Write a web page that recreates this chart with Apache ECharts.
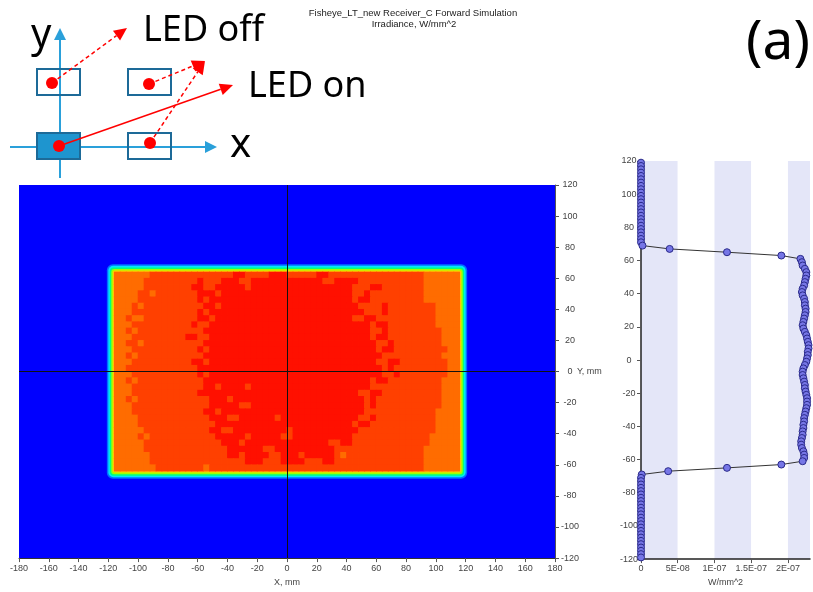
<!DOCTYPE html>
<html><head><meta charset="utf-8">
<script src="https://cdn.jsdelivr.net/npm/echarts@6/dist/echarts.min.js"></script>
<style>html,body{margin:0;padding:0;background:#fff}#c{width:813px;height:592px}</style>
</head><body><div id="c"></div>
<script>
// ---------------- DATA ----------------
// Irradiance map (mm): outer field and nested edge bands [halfX, halfY, level]
const mapBackground = [-180, -120, 180, 120, 0];
const edgeBands = [
  [121, 69, 1],
  [120, 68, 2],
  [119, 67, 3],
  [118, 66, 4],
  [117, 65, 5]
];
// Interior pattern: 4 mm cells, from x=-116 (left) and y=64 (top); run-length coded o/m/r levels
const patternOrigin = [-116, 64];
const patternCell = 4;
const patternRows = [
  "o6 m14 r2 m4 r3 m5 r2 m16 o6",
  "o5 m9 r1 m3 r3 m2 r12 m2 r4 m11 o6",
  "o5 m8 r2 m2 r5 m1 r17 m3 r2 m7 o6",
  "o4 m2 o1 m7 r3 m1 r22 m2 r1 m9 o6",
  "o4 m10 r1 m1 r24 m1 r2 m9 o6",
  "o3 m1 o1 m10 r2 m1 r23 m4 r1 m8 o4",
  "o3 m11 r1 m1 r26 m3 r1 m8 o4",
  "o2 m1 o2 m9 r2 m1 r23 m2 r2 m10 o4",
  "o3 m10 r1 m2 r27 m1 r2 m8 o4",
  "o2 m1 o1 m11 r28 m2 r1 m9 o3",
  "o3 m9 r2 m2 r27 m1 r2 m9 o3",
  "o2 m2 o1 m10 r29 m2 r1 m8 o3",
  "o3 m11 r1 m1 r28 m1 r2 m9 o2",
  "o2 m1 o1 m11 r30 m10 o3",
  "o3 m10 r2 m1 r28 m2 r2 m8 o2",
  "o2 m12 r31 m1 r1 m9 o2",
  "o3 m11 r1 m1 r29 m2 r1 m8 o2",
  "o2 m1 o1 m11 r28 m1 r2 m9 o3",
  "o3 m12 r2 m1 r4 m1 r20 m12 o3",
  "o3 m11 r27 m2 r2 m10 o3",
  "o2 m1 o1 m12 r3 m1 r22 m1 r1 m11 o3",
  "o3 m13 r5 m2 r19 m1 r1 m11 o3",
  "o3 m12 r2 m1 r24 m12 o4",
  "o4 m12 r3 m2 r6 m1 r13 m2 r1 m10 o4",
  "o4 m13 r23 m1 r2 m11 o4",
  "o5 m11 r2 m2 r9 m1 r11 m13 o4",
  "o4 m1 o1 m11 r5 m1 r5 m2 r10 m13 o5",
  "o5 m13 r3 m1 r14 m2 r2 m13 o5",
  "o5 m14 r6 m2 r10 m15 o6",
  "o6 m13 r2 m1 r4 m2 r3 m1 r5 m1 o1 m13 o6",
  "o6 m16 r3 m3 r4 m3 r2 m15 o6",
  "o7 m8 o1 m36 o6"
];
const patternLevels = { o: 6, m: 7, r: 8 };

// Profile (right): Y positions in mm and irradiance W/mm^2
const profileY = [
  119,117,115,113,111,109,107,105,103,101,99,97,95,93,91,89,87,85,83,81,79,77,75,73,71,
  69,67,65,63,
  61,59,57,55,53,51,49,47,45,43,41,39,37,35,33,31,29,27,25,23,21,19,17,15,13,11,9,7,5,3,1,
  -1,-3,-5,-7,-9,-11,-13,-15,-17,-19,-21,-23,-25,-27,-29,-31,-33,-35,-37,-39,-41,-43,-45,-47,-49,-51,-53,-55,-57,-59,-61,
  -63,-65,-67,-69,
  -71,-73,-75,-77,-79,-81,-83,-85,-87,-89,-91,-93,-95,-97,-99,-101,-103,-105,-107,-109,-111,-113,-115,-117,-119
];
const profileVal = [
  0,0,0,0,0,0,0,0,0,0,0,0,0,0,0,0,0,0,0,0,0,0,0,0,0,
  0.02e-7,0.39e-7,1.17e-7,1.91e-7,
  2.17e-7,2.19e-7,2.20e-7,2.23e-7,2.25e-7,2.25e-7,2.24e-7,2.23e-7,2.22e-7,2.20e-7,2.19e-7,2.20e-7,2.22e-7,2.23e-7,2.23e-7,2.24e-7,2.24e-7,2.23e-7,2.22e-7,2.21e-7,2.20e-7,2.21e-7,2.23e-7,2.25e-7,2.26e-7,2.27e-7,2.28e-7,2.28e-7,2.27e-7,2.27e-7,2.26e-7,
  2.25e-7,2.23e-7,2.21e-7,2.20e-7,2.20e-7,2.21e-7,2.22e-7,2.23e-7,2.23e-7,2.24e-7,2.25e-7,2.26e-7,2.26e-7,2.26e-7,2.25e-7,2.24e-7,2.23e-7,2.22e-7,2.22e-7,2.21e-7,2.21e-7,2.20e-7,2.20e-7,2.19e-7,2.18e-7,2.18e-7,2.19e-7,2.21e-7,2.22e-7,2.22e-7,2.20e-7,
  1.91e-7,1.17e-7,0.37e-7,0.01e-7,
  0,0,0,0,0,0,0,0,0,0,0,0,0,0,0,0,0,0,0,0,0,0,0,0,0
];
const profileXTickLabels = ['0', '5E-08', '1E-07', '1.5E-07', '2E-07'];

const titleLines = ['Fisheye_LT_new Receiver_C Forward Simulation', 'Irradiance, W/mm^2'];

// ---------------- STYLE ----------------
const levelColors = ['#0000FF', '#0070FF', '#00E5FF', '#00FF80', '#A0FF00', '#FFD200', '#FF6C00', '#FF4000', '#FF1000'];
const bandRadius = [0, 6, 5, 4, 3, 2];
const FONT = 'Liberation Sans, Arial, sans-serif';
const DFONT = 'Noto Sans, Open Sans, sans-serif';

// build data
const zoneData = [mapBackground].concat(edgeBands.map(b => [-b[0], -b[1], b[0], b[1], b[2]]));
const cellData = [];
patternRows.forEach((row, r) => {
  let c = 0;
  row.split(' ').forEach(tok => {
    const code = tok[0], n = parseInt(tok.slice(1), 10);
    for (let k = 0; k < n; k++) {
      const x0 = patternOrigin[0] + (c + k) * patternCell;
      const y1 = patternOrigin[1] - r * patternCell;
      cellData.push([x0, y1 - patternCell, x0 + patternCell, y1, patternLevels[code]]);
    }
    c += n;
  });
});

function rectItem(api, pad, radius) {
  const p0 = api.coord([api.value(0), api.value(3)]);
  const p1 = api.coord([api.value(2), api.value(1)]);
  return {
    type: 'rect',
    shape: { x: p0[0] - pad, y: p0[1] - pad, width: p1[0] - p0[0] + 2 * pad, height: p1[1] - p0[1] + 2 * pad, r: radius },
    style: { fill: levelColors[api.value(4)] }
  };
}

// ---------------- DIAGRAM (decoration) ----------------
const g = [];
const cBlue = '#2aa0da', cRect = '#1d6a98', cRed = '#ff0000';
function arrow(x1, y1, x2, y2, color, width, dashed, hl, hw) {
  const dx = x2 - x1, dy = y2 - y1, L = Math.hypot(dx, dy), ux = dx / L, uy = dy / L;
  const bx = x2 - ux * hl, by = y2 - uy * hl;
  g.push({ type: 'line', shape: { x1: x1, y1: y1, x2: bx, y2: by }, style: { stroke: color, lineWidth: width, lineDash: dashed ? [4, 3] : null } });
  g.push({ type: 'polygon', shape: { points: [[x2, y2], [bx - uy * hw, by + ux * hw], [bx + uy * hw, by - ux * hw]] }, style: { fill: color } });
}
arrow(60, 178, 60, 28, cBlue, 2, false, 12, 6);
arrow(10, 147, 217, 147, cBlue, 2, false, 12, 6);
[[37, 69, false], [128, 69, false], [37, 133, true], [128, 133, false]].forEach(r => {
  g.push({ type: 'rect', shape: { x: r[0], y: r[1], width: 43, height: 26 }, style: { fill: r[2] ? '#1e95cf' : 'transparent', stroke: cRect, lineWidth: 2 } });
});
arrow(52, 83, 127, 28, cRed, 1.5, true, 13, 6);
arrow(149, 84, 205, 61, cRed, 1.5, true, 13, 6);
arrow(150, 143, 205, 61, cRed, 1.5, true, 13, 6);
arrow(59, 146, 233, 85, cRed, 1.5, false, 13, 6);
[[52, 83], [149, 84], [59, 146], [150, 143]].forEach(p => {
  g.push({ type: 'circle', shape: { cx: p[0], cy: p[1], r: 6 }, style: { fill: cRed } });
});
const dtext = (t, x, y, size, align) => g.push({ type: 'text', x: x, y: y, style: { text: t, fill: '#000', font: size + 'px ' + DFONT, textAlign: align || 'left', textVerticalAlign: 'middle' } });
dtext('y', 31, 36, 40);
dtext('x', 230, 146, 40);
dtext('LED off', 143, 31, 36);
dtext('LED on', 248, 87, 36);
dtext('(a)', 778, 43, 55, 'center');
g.push({ type: 'text', x: 413, y: 13, style: { text: titleLines[0], fill: '#222', font: '9.5px ' + FONT, textAlign: 'center', textVerticalAlign: 'middle' } });
g.push({ type: 'text', x: 414, y: 24, style: { text: titleLines[1], fill: '#222', font: '9.5px ' + FONT, textAlign: 'center', textVerticalAlign: 'middle' } });

// ---------------- CHART ----------------
const chart = echarts.init(document.getElementById('c'));
const lbl = { color: '#444', fontSize: 9, fontFamily: FONT };
chart.setOption({
  animation: false,
  backgroundColor: '#fff',
  graphic: g,
  grid: [
    { left: 19, right: 258, top: 185, bottom: 32 },
    { left: 641, right: 3, top: 161, bottom: 31 }
  ],
  xAxis: [
    { type: 'value', gridIndex: 0, min: -180, max: 180, interval: 20, position: 'bottom',
      name: 'X, mm', nameLocation: 'middle', nameGap: 16, nameTextStyle: lbl,
      axisLine: { show: true, onZero: false, lineStyle: { color: '#333', width: 1 } },
      axisTick: { show: true, length: 4, lineStyle: { color: '#555' } },
      axisLabel: Object.assign({ margin: 6 }, lbl), splitLine: { show: false } },
    { type: 'value', gridIndex: 1, min: 0, max: 2.3e-7, interval: 5e-8, position: 'bottom',
      name: 'W/mm^2', nameLocation: 'middle', nameGap: 14, nameTextStyle: lbl,
      axisLine: { show: true, onZero: false, lineStyle: { color: '#222', width: 1.5 } },
      axisTick: { show: true, length: 4, lineStyle: { color: '#555' } },
      axisLabel: Object.assign({ margin: 5, showMaxLabel: false,
        formatter: v => profileXTickLabels[Math.round(v / 5e-8)] || '' }, lbl),
      splitLine: { show: false },
      splitArea: { show: true, areaStyle: { color: ['#e4e6f8', '#ffffff'] } } }
  ],
  yAxis: [
    { type: 'value', gridIndex: 0, min: -120, max: 120, interval: 20, position: 'right',
      name: 'Y, mm', nameLocation: 'middle', nameRotate: 0, nameGap: 22, nameMoveOverlap: false,
      nameTextStyle: Object.assign({ align: 'left', verticalAlign: 'middle' }, lbl),
      axisLine: { show: true, onZero: false, lineStyle: { color: '#555', width: 1 } },
      axisTick: { show: true, length: 4, lineStyle: { color: '#555' } },
      axisLabel: Object.assign({ margin: 15, align: 'center' }, lbl), splitLine: { show: false } },
    { type: 'value', gridIndex: 1, min: -120, max: 120, interval: 20, position: 'left',
      axisLine: { show: true, onZero: false, lineStyle: { color: '#222', width: 1.5 } },
      axisTick: { show: true, length: 4, lineStyle: { color: '#555' } },
      axisLabel: Object.assign({ margin: 12, align: 'center' }, lbl), splitLine: { show: false } }
  ],
  series: [
    { type: 'custom', xAxisIndex: 0, yAxisIndex: 0, data: zoneData, silent: true, clip: true,
      renderItem: (p, api) => rectItem(api, 0, bandRadius[p.dataIndex]) },
    { type: 'custom', xAxisIndex: 0, yAxisIndex: 0, data: cellData, silent: true, clip: true,
      renderItem: (p, api) => rectItem(api, 0.4, 0) },
    { type: 'line', xAxisIndex: 0, yAxisIndex: 0, data: [], silent: true,
      markLine: { silent: true, symbol: ['none', 'none'], label: { show: false },
        lineStyle: { color: '#111', width: 1, type: 'solid' },
        data: [{ xAxis: 0 }, { yAxis: 0 }] } },
    { type: 'line', xAxisIndex: 1, yAxisIndex: 1, silent: true,
      data: profileY.map((y, i) => [profileVal[i], y]),
      symbol: 'circle', symbolSize: 7, showAllSymbol: true,
      itemStyle: { color: '#7676e6', borderColor: '#2a2a8a', borderWidth: 1 },
      lineStyle: { color: '#333', width: 1 } }
  ]
});
</script></body></html>
